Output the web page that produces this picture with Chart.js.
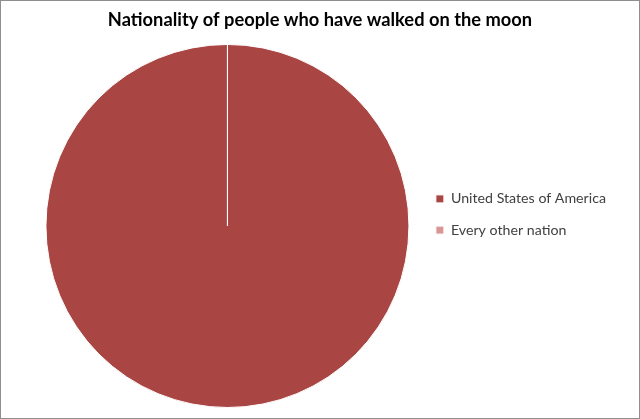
<!DOCTYPE html>
<html><head><meta charset="utf-8">
<script src="https://cdn.jsdelivr.net/npm/chart.js@4/dist/chart.umd.min.js"></script>
<style>
html,body{margin:0;padding:0;background:#fff;}
#wrap{width:638px;height:417px;border:1px solid #8e8e8e;position:relative;}
canvas{display:block;}
</style></head><body>
<div id="wrap"><canvas id="c" width="638" height="417"></canvas></div>
<script>
const titleText = "Nationality of people who have walked on the moon";
const categories = ["United States of America", "Every other nation"];
const values = [12, 0];
const colors = ["#A94543", "#D99694"];

const placement = {
  id: 'placement',
  afterLayout(chart) {
    const t = chart.titleBlock;
    if (t) { t.left = 0; t.right = chart.width; t.width = chart.width; }
    const l = chart.legend;
    if (l) { l.top += 10; l.bottom += 10; }
  }
};

new Chart(document.getElementById('c'), {
  type: 'pie',
  data: {
    labels: categories,
    datasets: [{ data: values, backgroundColor: colors, borderColor: '#ffffff', borderWidth: 1 }]
  },
  plugins: [placement],
  options: {
    responsive: false,
    animation: false,
    layout: { padding: { left: 35, right: 23, top: 0, bottom: 10 } },
    plugins: {
      tooltip: { enabled: false },
      title: {
        display: true, text: titleText, color: '#000',
        font: { family: 'Lato', size: 18.3, weight: 'bold' },
        padding: { top: 8, bottom: 13 }
      },
      legend: {
        position: 'right', align: 'center',
        labels: {
          boxWidth: 8, boxHeight: 8, padding: 17, color: '#404040',
          font: { family: 'Lato', size: 14.2 }
        }
      }
    }
  }
});
</script>
</body></html>
